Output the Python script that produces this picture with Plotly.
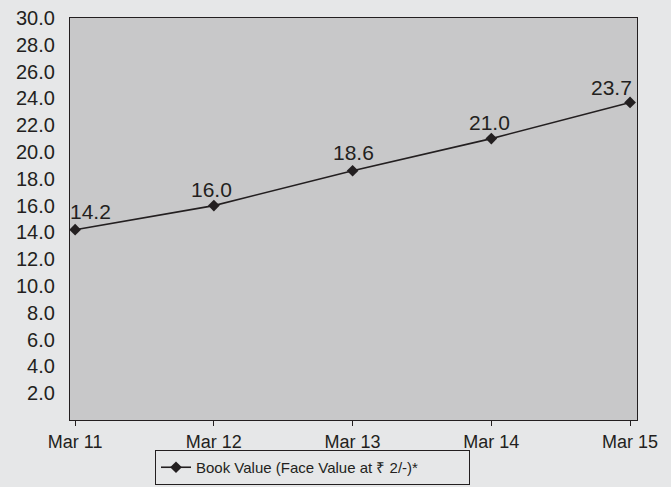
import plotly.graph_objects as go

categories = ["Mar 11", "Mar 12", "Mar 13", "Mar 14", "Mar 15"]
book_value = [14.2, 16.0, 18.6, 21.0, 23.7]
label_text = ["14.2", "16.0", "18.6", "21.0", "23.7"]
series_name = "Book Value (Face Value at \u20b9 2/-)*"
y_ticks = [2, 4, 6, 8, 10, 12, 14, 16, 18, 20, 22, 24, 26, 28, 30]

# pixel offsets of the value labels relative to their points
label_dx = [15, -2, 1, -2, -19]
label_dy = [18, 16, 18, 16, 15]

dark = "#231f20"
font_family = "Liberation Sans, Arial, sans-serif"

fig = go.Figure()
fig.add_trace(go.Scatter(
    x=list(range(len(categories))),
    y=book_value,
    mode="lines+markers",
    line=dict(color=dark, width=1.6),
    marker=dict(symbol="diamond", size=9, color=dark),
    name=series_name,
    showlegend=True,
    cliponaxis=False,
))

for i, (v, t) in enumerate(zip(book_value, label_text)):
    fig.add_annotation(
        x=i, y=v, text=t, showarrow=False,
        xshift=label_dx[i], yshift=label_dy[i],
        xanchor="center", yanchor="middle",
        font=dict(family=font_family, size=21, color=dark),
    )

fig.update_layout(
    width=671, height=487,
    margin=dict(l=70, r=34, t=18, b=67),
    paper_bgcolor="#e6e7e8",
    plot_bgcolor="#c8c8c9",
    font=dict(family=font_family, size=16, color=dark),
    showlegend=True,
    legend=dict(
        orientation="h",
        xref="container", yref="container",
        x=155 / 671, xanchor="left",
        y=(487 - 485) / 487, yanchor="bottom",
        bgcolor="#e6e7e8",
        bordercolor=dark, borderwidth=1,
        font=dict(family=font_family, size=15, color=dark),
        entrywidth=268,
        tracegroupgap=0,
    ),
    xaxis=dict(
        range=[-0.037, 4.05],
        tickmode="array",
        tickvals=list(range(len(categories))),
        ticktext=categories,
        ticks="outside", ticklen=5, tickcolor=dark, tickwidth=1,
        showline=True, linecolor=dark, linewidth=1.2, mirror=True,
        showgrid=False, zeroline=False, automargin=False,
        tickfont=dict(family=font_family, size=18, color=dark),
    ),
    yaxis=dict(
        range=[0, 30],
        tickmode="array",
        tickvals=y_ticks,
        ticktext=[f"{v:.1f}" for v in y_ticks],
        ticks="", ticklabelstandoff=10, automargin=False,
        showline=True, linecolor=dark, linewidth=1.2, mirror=True,
        showgrid=False, zeroline=False,
        tickfont=dict(family=font_family, size=20, color=dark),
    ),
)

fig.write_html("out.html")
